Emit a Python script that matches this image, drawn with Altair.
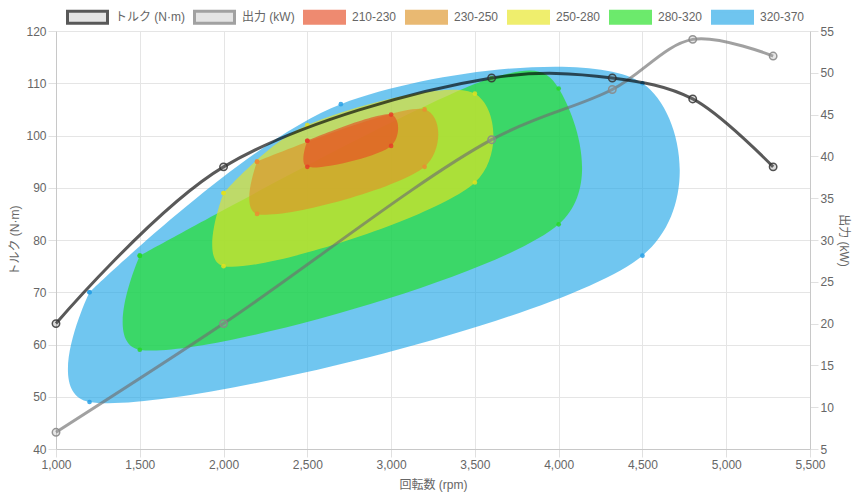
import altair as alt
import pandas as pd

FONT = "Helvetica Neue, Helvetica, Arial, Liberation Sans, Noto Sans CJK JP, sans-serif"

SERIES = ["トルク (N·m)", "出力 (kW)", "210-230", "230-250", "250-280", "280-320", "320-370"]

# engine curves
rpm_line = [1000, 2000, 3600, 4320, 4800, 5280]
torque_vals = [64, 94, 111, 111, 107, 94]
power_vals = [7, 20, 42, 48, 54, 52]

# fuel consumption islands (closed outlines, rpm / torque)
red_rpm = [2500, 3000, 3000, 2500, 2500]
red_tq = [99, 104, 98, 94, 99]
orange_rpm = [2200, 3200, 3200, 2200, 2200]
orange_tq = [95, 105, 94, 85, 95]
yellow_rpm = [2000, 2500, 3500, 3500, 2000, 2000]
yellow_tq = [89, 102, 108, 91, 75, 89]
green_rpm = [1500, 3600, 4000, 4000, 1500, 1500]
green_tq = [77, 111, 109, 83, 59, 77]
blue_rpm = [1200, 2700, 4500, 4500, 1200, 1200]
blue_tq = [70, 106, 110, 77, 49, 70]

FILL_RANGE = ["#d6d6d6", "#d6d6d6", "#e64d24", "#de9428", "#e8e520", "#1ee01e", "#23a7e8"]
STROKE_RANGE = ["#000000", "#6f6f6f", "#e64d24", "#de9428", "#e8e520", "#1ee01e", "#23a7e8"]
WIDTH_RANGE = [3, 3, 1, 1, 1, 1, 1]
DOT_COLORS = {"210-230": "#e63c28", "230-250": "#eb8c32", "250-280": "#e1e11e",
              "280-320": "#28d728", "320-370": "#28a0e6"}

fill_scale = alt.Scale(domain=SERIES, range=FILL_RANGE)
stroke_scale = alt.Scale(domain=SERIES, range=STROKE_RANGE)
width_scale = alt.Scale(domain=SERIES, range=WIDTH_RANGE)
NOLEG = alt.Legend(title=None)


def legend_channels():
    return dict(
        fill=alt.Fill("series:N", scale=fill_scale, legend=NOLEG),
        stroke=alt.Stroke("series:N", scale=stroke_scale, legend=NOLEG),
        strokeWidth=alt.StrokeWidth("series:N", scale=width_scale, legend=NOLEG),
    )


x_enc = alt.X("rpm:Q", scale=alt.Scale(domain=[1000, 5500], nice=False),
              axis=alt.Axis(values=list(range(1000, 5501, 500)), format=",d", labelFlush=False,
                            title="回転数 (rpm)", grid=True, titlePadding=9))
y_tq_scale = alt.Scale(domain=[40, 120], nice=False, zero=False)


def poly(name, rpms, tqs):
    df = pd.DataFrame({"rpm": rpms, "torque": tqs, "i": list(range(len(rpms))), "series": name})
    base = alt.Chart(df)
    area = base.mark_line(interpolate="catmull-rom", tension=0.25, fillOpacity=0.65,
                          strokeOpacity=0.0).encode(
        x=x_enc,
        y=alt.Y("torque:Q", scale=y_tq_scale),
        order=alt.Order("i:Q"),
        **legend_channels(),
    )
    dots = base.mark_circle(size=22, opacity=0.85, color=DOT_COLORS[name]).encode(
        x=alt.X("rpm:Q"), y=alt.Y("torque:Q", scale=y_tq_scale))
    return [area, dots]


layers = []
layers += poly("320-370", blue_rpm, blue_tq)
layers += poly("280-320", green_rpm, green_tq)
layers += poly("250-280", yellow_rpm, yellow_tq)
layers += poly("230-250", orange_rpm, orange_tq)
layers += poly("210-230", red_rpm, red_tq)

tq_axis = alt.Axis(values=list(range(40, 121, 10)), title="トルク (N·m)", grid=True, titlePadding=4)
islands = alt.layer(*layers).encode(y=alt.Y("torque:Q", scale=y_tq_scale, axis=tq_axis))

line_df_p = pd.DataFrame({"rpm": rpm_line, "power": power_vals, "series": SERIES[1]})
line_df_t = pd.DataFrame({"rpm": rpm_line, "torque": torque_vals, "series": SERIES[0]})

p_axis = alt.Axis(orient="right", values=list(range(5, 56, 5)), title="出力 (kW)", grid=False, titlePadding=3)
p_scale = alt.Scale(domain=[5, 55], nice=False, zero=False)
p_base = alt.Chart(line_df_p)
power_line = p_base.mark_line(interpolate="catmull-rom", tension=0.5, strokeOpacity=0.65, fillOpacity=0).encode(
    x=alt.X("rpm:Q"),
    y=alt.Y("power:Q", scale=p_scale, axis=p_axis),
    **legend_channels(),
)
power_pts = p_base.mark_point(shape="circle", size=55, filled=False, fill="#aaaaaa", fillOpacity=0.3,
                              stroke="#8a8a8a", strokeWidth=1.5, opacity=0.9).encode(
    x=alt.X("rpm:Q"), y=alt.Y("power:Q", scale=p_scale, axis=p_axis))
power = alt.layer(power_line, power_pts)

t_base = alt.Chart(line_df_t)
torque_line = t_base.mark_line(interpolate="catmull-rom", tension=0.5, strokeOpacity=0.65, fillOpacity=0).encode(
    x=alt.X("rpm:Q"),
    y=alt.Y("torque:Q", scale=y_tq_scale, axis=None),
    **legend_channels(),
)
torque_pts = t_base.mark_point(shape="circle", size=55, filled=False, fill="#777777", fillOpacity=0.3,
                               stroke="#333333", strokeWidth=1.5, opacity=0.85).encode(
    x=alt.X("rpm:Q"), y=alt.Y("torque:Q", scale=y_tq_scale, axis=None))
torque = alt.layer(torque_line, torque_pts)

chart = alt.layer(islands, power, torque).resolve_scale(y="independent").properties(
    width=754, height=418,
    autosize=alt.AutoSizeParams(type="none"),
    padding={"left": 48, "top": 23, "right": 42, "bottom": 43},
).configure_view(stroke=None).configure_axis(
    labelFont=FONT, titleFont=FONT, labelFontSize=12, titleFontSize=12,
    labelColor="#666666", titleColor="#666666", titleFontWeight="normal",
    gridColor="#e5e5e5", domainColor="#c8c8c8", tickColor="#e0e0e0",
    tickSize=8, labelPadding=2,
).configure_legend(
    orient="none", legendX=10, legendY=-35.5, direction="horizontal",
    symbolType="M-1,-0.3H1V0.3H-1Z", symbolSize=1600, symbolOpacity=0.65,
    labelFont=FONT, labelFontSize=12, labelColor="#666666",
    columnPadding=3, labelOffset=6, padding=0,
)

chart.save("out.html", embed_options={"renderer": "svg", "actions": False})
